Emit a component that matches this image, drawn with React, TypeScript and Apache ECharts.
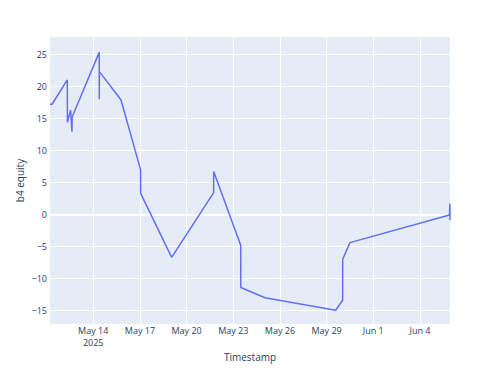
import React, { useEffect, useRef } from "react";
import * as echarts from "echarts";

const timestamps: string[] = [
  "2025-05-11T05:20", "2025-05-11T08:30", "2025-05-12T08:00", "2025-05-12T08:10",
  "2025-05-12T13:10", "2025-05-12T15:10", "2025-05-12T15:30", "2025-05-14T09:15",
  "2025-05-14T09:20", "2025-05-14T09:30", "2025-05-15T18:45", "2025-05-17T01:00",
  "2025-05-17T01:10", "2025-05-19T01:00", "2025-05-21T17:45", "2025-05-21T17:50",
  "2025-05-23T11:30", "2025-05-23T11:40", "2025-05-25T01:00", "2025-05-29T14:00",
  "2025-05-30T00:45", "2025-05-30T00:50", "2025-05-30T12:00", "2025-06-05T21:30",
  "2025-06-05T22:15", "2025-06-05T22:20",
];
const equity: number[] = [
  17.2, 17.2, 21.0, 14.4,
  16.3, 12.9, 15.2, 25.3,
  18.0, 22.3, 17.9, 7.0,
  3.3, -6.7, 3.4, 6.7,
  -4.8, -11.4, -13.0, -14.95,
  -13.4, -7.0, -4.4, -0.1,
  1.7, -0.9,
];
const xTickDates: string[] = [
  "2025-05-14", "2025-05-17", "2025-05-20", "2025-05-23",
  "2025-05-26", "2025-05-29", "2025-06-01", "2025-06-04",
];
const yTicks: number[] = [-15, -10, -5, 0, 5, 10, 15, 20, 25];

const MONTHS = ["Jan", "Feb", "Mar", "Apr", "May", "Jun", "Jul", "Aug", "Sep", "Oct", "Nov", "Dec"];
const toMs = (s: string) => Date.parse(s.length === 10 ? s + "T00:00:00Z" : s + ":00Z");

export default function App() {
  const ref = useRef<HTMLDivElement>(null);
  useEffect(() => {
    if (!ref.current) return;
    const chart = echarts.init(ref.current, undefined, { renderer: "svg" });
    const xs = timestamps.map(toMs);
    const data = xs.map((x, i) => [x, equity[i]]);
    const xTicks = xTickDates.map(toMs);
    const font = '"Open Sans", verdana, arial, sans-serif';
    chart.setOption({
      animation: false,
      textStyle: { fontFamily: font },
      grid: {
        left: 42, right: 58, top: 29, bottom: 59,
        outerBoundsMode: "none",
        containLabel: false,
        show: true, backgroundColor: "#E5ECF6", borderWidth: 0,
      },
      xAxis: {
        type: "value",
        min: xs[0],
        max: xs[xs.length - 1],
        name: "Timestamp",
        nameLocation: "middle",
        nameGap: 28,
        nameMoveOverlap: false,
        nameTextStyle: { color: "#2a3f5f", fontSize: 10, fontFamily: font },
        axisLine: { show: false },
        axisTick: { show: false, customValues: xTicks },
        splitLine: { show: true, lineStyle: { color: "#ffffff", width: 1 } },
        axisLabel: {
          customValues: xTicks,
          color: "#2a3f5f",
          fontSize: 9,
          fontFamily: font,
          margin: 0,
          lineHeight: 12,
          formatter: (v: number) => {
            const d = new Date(v);
            const s = MONTHS[d.getUTCMonth()] + " " + d.getUTCDate();
            return v === xTicks[0] ? s + "\n" + d.getUTCFullYear() : s;
          },
        },
      },
      yAxis: {
        type: "value",
        min: -17.1,
        max: 27.7,
        name: "b4 equity",
        nameLocation: "middle",
        nameGap: 25,
        nameMoveOverlap: false,
        nameTextStyle: { color: "#2a3f5f", fontSize: 10, fontFamily: font },
        axisLine: { show: false },
        axisTick: { show: false, customValues: yTicks },
        splitLine: { show: true, lineStyle: { color: "#ffffff", width: 1 } },
        axisLabel: {
          customValues: yTicks,
          color: "#2a3f5f",
          fontSize: 9,
          fontFamily: font,
          margin: 3,
          formatter: (v: number) => (v < 0 ? "\u2212" + Math.abs(v) : String(v)),
        },
      },
      series: [
        {
          type: "line",
          data: [],
          z: 1,
          silent: true,
          markLine: {
            z: 1,
            silent: true,
            symbol: "none",
            label: { show: false },
            lineStyle: { color: "#ffffff", width: 2, type: "solid" },
            data: [{ yAxis: 0 }],
          },
        },
        {
          type: "line",
          data,
          z: 4,
          showSymbol: false,
          symbol: "none",
          lineStyle: { color: "#636efa", width: 1.5 },
          itemStyle: { color: "#636efa" },
        },
      ],
    });
    return () => chart.dispose();
  }, []);
  return <div ref={ref} style={{ width: 500, height: 375 }} />;
}
